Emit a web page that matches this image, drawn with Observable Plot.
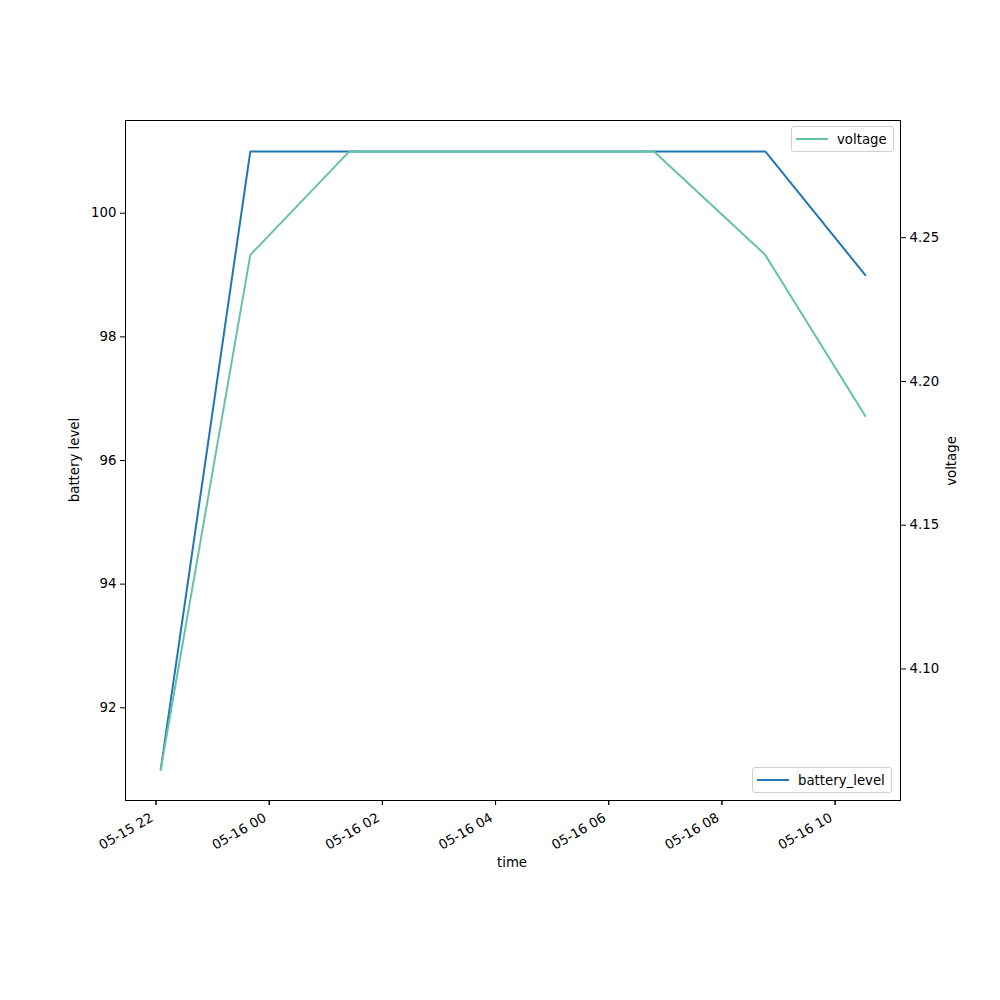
<!DOCTYPE html>
<html>
<head>
<meta charset="utf-8">
<script src="https://cdn.jsdelivr.net/npm/d3@7"></script>
<script src="https://cdn.jsdelivr.net/npm/@observablehq/plot@0.6"></script>
<style>
  html, body { margin: 0; padding: 0; background: #fff; }
  #wrap { position: relative; width: 1000px; height: 1000px; font-family: "DejaVu Sans", sans-serif; }
  .legend { position: absolute; background: rgba(255,255,255,0.8); border: 1px solid #d0d0d0; border-radius: 3px;
            font-size: 13.3px; display: flex; align-items: center; box-sizing: border-box; height: 26px; padding: 0 6px 0 4px; }
  .legend .sw { width: 32px; height: 2px; margin-right: 9px; }
  .alabel { position: absolute; font-size: 13.3px; white-space: nowrap; transform: translate(-50%, -50%); line-height: 1; }
  .alabel.rot { transform: translate(-50%, -50%) rotate(-90deg); }
</style>
</head>
<body>
<div id="wrap"></div>
<script>
const times = ["2023-05-15T22:05", "2023-05-15T23:40", "2023-05-16T01:25", "2023-05-16T06:48", "2023-05-16T08:46", "2023-05-16T10:32"];
const batteryLevel = [91, 101, 101, 101, 101, 99];
const voltage = [4.065, 4.244, 4.28, 4.28, 4.244, 4.188];
const leftTicks = [92, 94, 96, 98, 100];
const rightTicks = [4.10, 4.15, 4.20, 4.25];

const parse = d3.utcParse("%Y-%m-%dT%H:%M");
const dates = times.map(parse);

function padded(lo, hi) { const m = (hi - lo) * 0.05; return [lo - m, hi + m]; }
const yDom = padded(d3.min(batteryLevel), d3.max(batteryLevel));
const vDom = padded(d3.min(voltage), d3.max(voltage));
const tExt = d3.extent(dates);
const tm = (tExt[1] - tExt[0]) * 0.05;
const xDom = [new Date(+tExt[0] - tm), new Date(+tExt[1] + tm)];

const v2y = d3.scaleLinear().domain(vDom).range(yDom);

const battData = dates.map((t, i) => ({t, v: batteryLevel[i]}));
const voltData = dates.map((t, i) => ({t, v: v2y(voltage[i])}));

const font = "DejaVu Sans, sans-serif";
const chart = Plot.plot({
  width: 1000, height: 1000,
  marginLeft: 125, marginRight: 100, marginTop: 120, marginBottom: 200,
  style: {fontFamily: font, fontSize: "13.3px", color: "black", background: "white"},
  x: {type: "utc", domain: xDom},
  y: {domain: yDom},
  marks: [
    Plot.frame({stroke: "black", strokeWidth: 1}),
    Plot.axisX({ticks: d3.utcHour.every(2), tickFormat: d3.utcFormat("%m-%d %H"), tickRotate: -30, tickSize: 5, tickPadding: 3, label: null, fontSize: "13.3px", textStroke: "none"}),
    Plot.axisX({ticks: d3.utcHour.every(2), tickSize: 5, text: null, label: null}),
    Plot.axisY({anchor: "left", ticks: leftTicks, tickFormat: d => String(d), tickSize: 5, tickPadding: 4, label: null, fontSize: "13.3px"}),
    Plot.axisY({anchor: "right", ticks: rightTicks.map(v2y), tickFormat: d => v2y.invert(d).toFixed(2), tickSize: 5, tickPadding: 4, label: null, fontSize: "13.3px"}),
    Plot.line(battData, {x: "t", y: "v", stroke: "#1f77b4", strokeWidth: 2}),
    Plot.line(voltData, {x: "t", y: "v", stroke: "#66c2a5", strokeWidth: 2})
  ]
});
const wrap = document.getElementById("wrap");
wrap.appendChild(chart);

// shift rotated x tick labels to match matplotlib's placement
d3.select(chart).selectAll("g[aria-label='x-axis tick label'] text")
  .attr("transform", function() { return "translate(-4,8) " + (this.getAttribute("transform") || ""); });

function legend(label, color, left, top) {
  const d = document.createElement("div");
  d.className = "legend";
  d.style.left = left + "px"; d.style.top = top + "px";
  d.innerHTML = `<span class="sw" style="background:${color}"></span><span>${label}</span>`;
  wrap.appendChild(d);
}
function axisLabel(text, x, y, rot) {
  const d = document.createElement("div");
  d.className = "alabel" + (rot ? " rot" : "");
  d.style.left = x + "px"; d.style.top = y + "px";
  d.textContent = text;
  wrap.appendChild(d);
}
axisLabel("battery level", 75, 460, true);
axisLabel("voltage", 952, 461, true);
axisLabel("time", 512, 863, false);
legend("voltage", "#66c2a5", 791, 126);
legend("battery_level", "#1f77b4", 752, 767);
</script>
</body>
</html>
